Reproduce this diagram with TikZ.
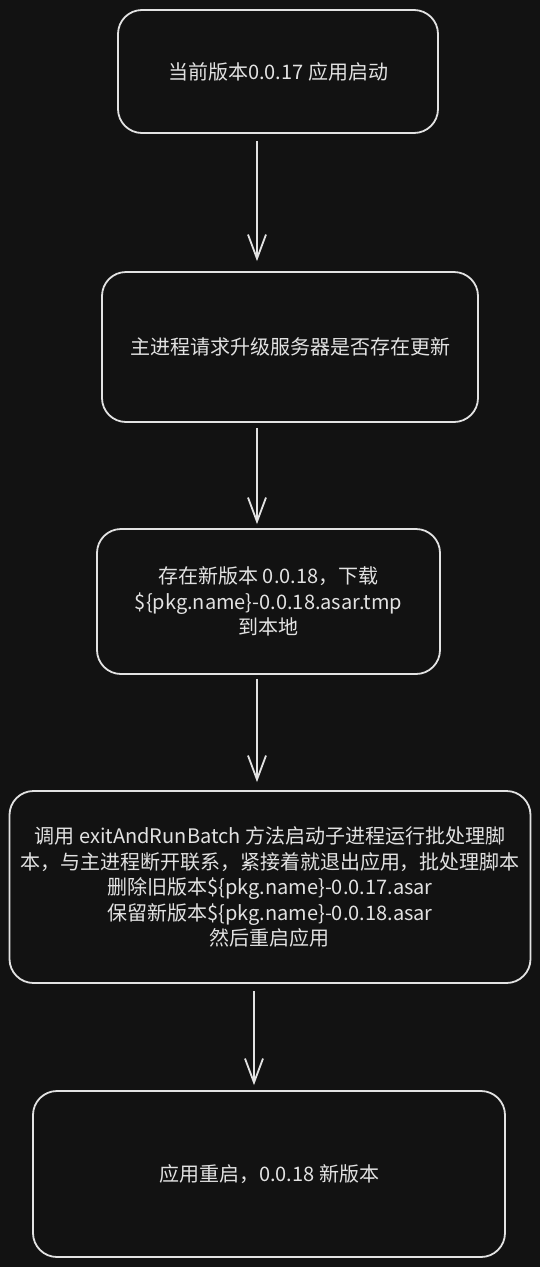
\documentclass[tikz,border=0pt]{standalone}
\usepackage{fontspec}
\setmainfont{Noto Sans CJK SC}
\usetikzlibrary{arrows.meta, calc}
\definecolor{canvas}{HTML}{121212}
\definecolor{chalk}{HTML}{E2E2E2}

\begin{document}
\begin{tikzpicture}[x=1pt, y=-1pt,
    box/.style={draw=chalk, line width=1.8pt, rounded corners=24pt, text=chalk, align=center, inner sep=0pt, font=\fontsize{20}{25.5}\selectfont},
    flow/.style={draw=chalk, line width=1.8pt, -{Straight Barb[length=24pt, width=18pt]}}]

    \fill [canvas] (0, 0) rectangle (540, 1267);
    \useasboundingbox (0, 0) rectangle (540, 1267);

    \node [box, minimum width=320pt, minimum height=123pt] (start) at (278, 71.5) {当前版本0.0.17 应用启动};
    \node [box, minimum width=376pt, minimum height=150pt] (check) at (290, 347) {主进程请求升级服务器是否存在更新};
    \node [box, minimum width=343pt, minimum height=145pt] (fetch) at (268.5, 601.5) {存在新版本 0.0.18，下载\\\$\{pkg.name\}-0.0.18.asar.tmp\\到本地};
    \node [box, minimum width=521pt, minimum height=192pt] (batch) at (270, 887) {调用 exitAndRunBatch 方法启动子进程运行批处理脚\\本，与主进程断开联系，紧接着就退出应用，批处理脚本\\删除旧版本\$\{pkg.name\}-0.0.17.asar\\保留新版本\$\{pkg.name\}-0.0.18.asar\\然后重启应用};
    \node [box, minimum width=472pt, minimum height=166pt] (restart) at (269, 1174) {应用重启，0.0.18 新版本};

    \draw [flow] ([xshift=-21pt, yshift=-7pt]start.south) -- ([xshift=-33pt, yshift=10pt]check.north);
    \draw [flow] ([xshift=-33pt, yshift=-5pt]check.south) -- ([xshift=-11.5pt, yshift=4pt]fetch.north);
    \draw [flow] ([xshift=-11.5pt, yshift=-4pt]fetch.south) -- ([xshift=-13pt, yshift=8pt]batch.north);
    \draw [flow] ([xshift=-16pt, yshift=-7pt]batch.south) -- ([xshift=-15pt, yshift=5pt]restart.north);
\end{tikzpicture}
\end{document}
